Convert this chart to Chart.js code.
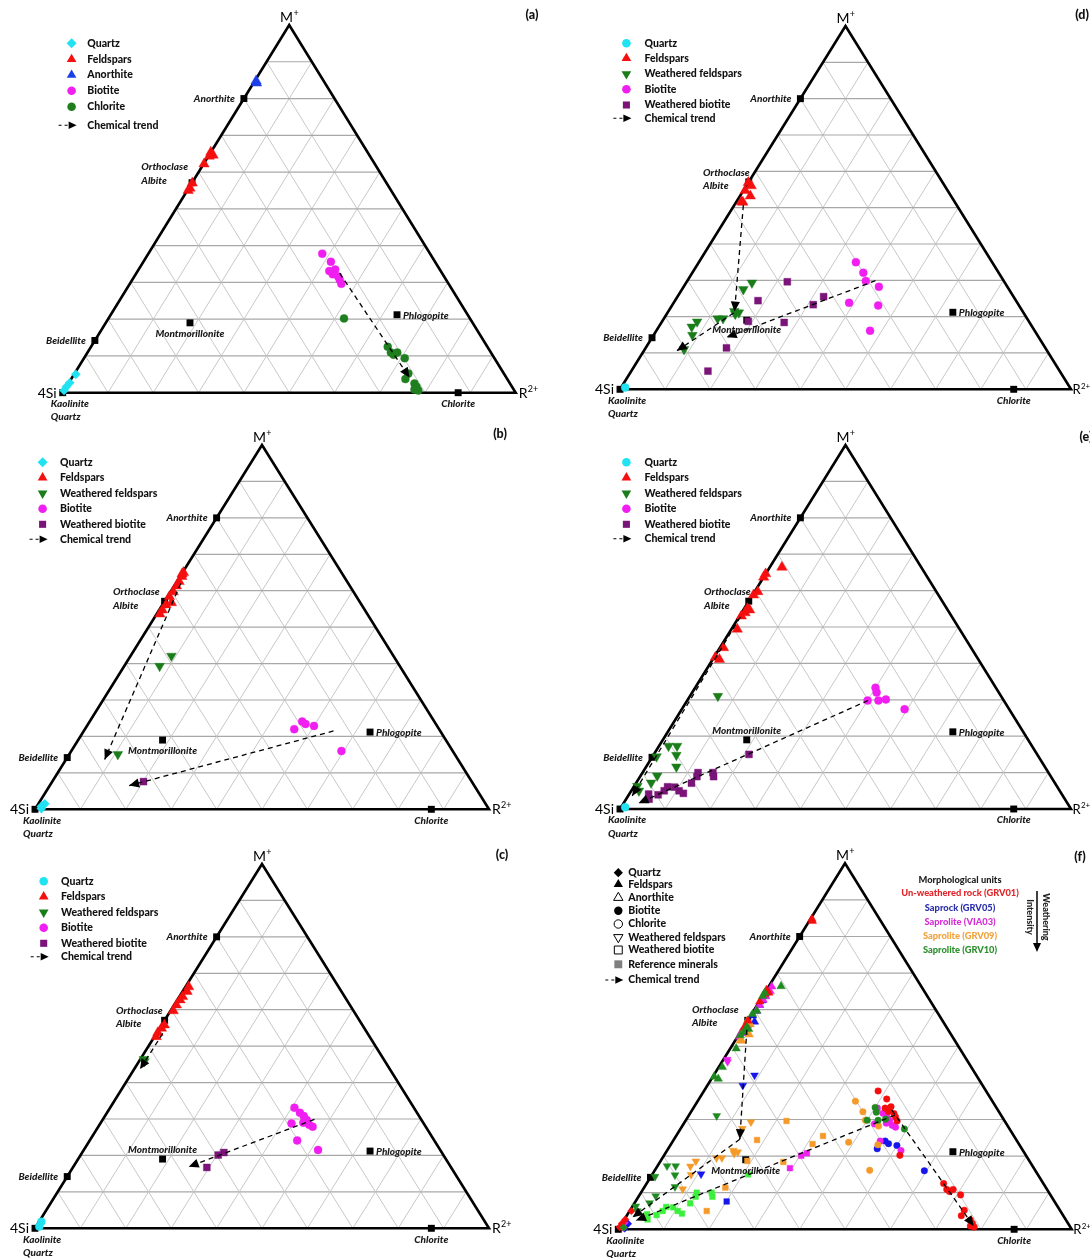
<!DOCTYPE html>
<html lang="en">
<head>
<meta charset="utf-8">
<title>M+ – 4Si – R2+ ternary diagrams</title>
<script src="https://cdn.jsdelivr.net/npm/chart.js@4.4.0/dist/chart.umd.min.js"></script>
<style>
  html, body { margin: 0; padding: 0; background: #fff; }
  #sheet { position: relative; width: 1090px; height: 1258px; overflow: hidden; background: #fff; }
  #sheet canvas { position: absolute; }
</style>
</head>
<body>
<div id="sheet">
  <canvas id="chart-a" width="545" height="432" style="left:0;top:0"></canvas>
  <canvas id="chart-b" width="545" height="432" style="left:0;top:420px"></canvas>
  <canvas id="chart-c" width="545" height="418" style="left:0;top:840px"></canvas>
  <canvas id="chart-d" width="545" height="432" style="left:545px;top:0"></canvas>
  <canvas id="chart-e" width="545" height="432" style="left:545px;top:420px"></canvas>
  <canvas id="chart-f" width="545" height="418" style="left:545px;top:840px"></canvas>
</div>
<script>
// Every composition is [M+, R2+] in percent; the 4Si share is 100 - M+ - R2+.
const gridSteps = [10, 20, 30, 40, 50, 60, 70, 80, 90];

// Reference minerals
const refNames = ['Anorthite', 'Albite', 'Beidellite', 'Montmorillonite', 'Phlogopite', 'Chlorite', 'Kaolinite'];
const refPts = [[80.0, 0.0], [57.1, 0.0], [14.2, 0.0], [19.0, 18.6], [21.2, 63.2], [0.0, 87.3], [0.0, 0.0]];

// (a) Un-weathered rock GRV01
const a_quartz = [[5.0, 0.4], [2.7, 0.2], [1.6, 0.0], [0.6, 0.0]];
const a_feldspars = [[65.4, 0.0], [64.6, 0.9], [64.3, 0.2], [62.2, 0.1], [57.0, 0.1], [55.6, 0.3], [55.0, 0.2]];
const a_anorthite = [[84.8, 0.3], [84.2, 0.7]];
const a_biotite = [[37.8, 38.4], [35.6, 41.4], [33.1, 42.3], [33.5, 43.4], [32.2, 43.5], [31.6, 45.0], [30.7, 45.8], [29.6, 46.7]];
const a_chlorite = [[20.2, 52.0], [12.5, 65.5], [10.9, 67.0], [10.3, 67.9], [10.9, 68.4], [9.4, 70.8], [5.2, 73.7], [3.7, 73.8], [2.5, 76.4], [1.6, 77.3], [0.9, 77.2], [0.6, 78.2]];
const a_trends = [[[32.5, 44.9], [4.1, 74.5]]];

// (b) Saprock GRV05
const b_quartz = [[1.5, 1.4], [0.8, 1.0], [0.2, 1.3]];
const b_feldspars = [[65.0, 0.2], [64.6, 0.1], [63.9, 0.4], [62.5, 0.5], [61.3, 0.5], [59.7, 0.6], [58.4, 0.4], [56.7, 1.7], [56.1, 0.8], [54.7, 0.7], [53.6, 0.7]];
const b_wfeldspars = [[42.1, 9.0], [39.3, 7.8], [15.1, 10.7]];
const b_biotite = [[24.1, 46.8], [23.4, 47.9], [22.9, 50.0], [22.0, 46.1], [16.0, 59.5]];
const b_wbiotite = [[7.6, 20.1]];
const b_trends = [[[62.0, 1.1], [13.7, 8.5]], [[21.5, 55.0], [6.5, 17.5]]];

// (c) Saprolite VIA03
const c_quartz = [[1.8, 0.5], [0.5, 0.7]];
const c_feldspars = [[66.3, 0.7], [65.0, 1.0], [63.6, 0.7], [62.7, 0.6], [61.3, 0.5], [59.7, 0.6], [55.8, 0.6], [54.9, 0.4], [53.7, 0.2], [52.6, 0.4]];
const c_wfeldspars = [[46.4, 0.8], [45.8, 1.2]];
const c_biotite = [[33.1, 40.6], [31.7, 42.5], [30.8, 43.8], [29.7, 45.0], [29.0, 44.6], [28.4, 46.2], [27.9, 47.2], [28.8, 42.1], [24.1, 45.7], [21.5, 51.6]];
const c_wbiotite = [[20.8, 31.2], [20.1, 30.3], [16.7, 29.5]];
const c_trends = [[[53.5, 1.4], [43.7, 1.3]], [[29.9, 46.6], [16.9, 25.4]]];

// (d) Saprolite GRV09
const d_quartz = [[0.5, 0.9]];
const d_feldspars = [[56.9, 0.0], [56.0, 1.1], [54.7, 0.4], [53.2, 2.3], [51.6, 1.1], [51.5, 1.5]];
const d_wfeldspars = [[29.3, 14.6], [27.5, 13.6], [21.5, 14.6], [21.1, 15.8], [20.7, 15.2], [19.5, 13.1], [19.5, 11.9], [18.6, 7.8], [17.2, 7.3], [14.9, 8.6], [11.0, 8.7]];
const d_biotite = [[35.0, 34.8], [32.1, 37.9], [29.8, 39.6], [28.2, 43.3], [23.8, 38.9], [23.1, 45.7], [16.1, 47.4]];
const d_wbiotite = [[29.6, 22.3], [24.4, 18.4], [25.5, 32.4], [23.3, 31.2], [18.4, 27.2], [18.7, 19.1], [11.4, 17.9], [5.0, 17.0]];
const d_trends = [[[50.7, 2.0], [21.4, 14.7]], [[21.0, 14.7], [10.6, 7.3]], [[29.9, 41.7], [14.3, 16.5]]];

// (e) Saprolite GRV10
const e_quartz = [[0.5, 0.9]];
const e_feldspars = [[66.4, 2.7], [64.6, 0.0], [63.7, 0.0], [59.7, 0.7], [58.8, 0.2], [55.1, 0.7], [53.9, 0.8], [54.7, 1.4], [53.0, 0.4], [49.4, 1.3], [44.3, 0.8], [41.7, 0.3], [41.1, 1.5]];
const e_wfeldspars = [[31.0, 6.2], [17.3, 2.1], [17.3, 4.0], [14.8, 5.1], [11.6, 6.7], [14.4, 0.9], [9.1, 3.7], [7.2, 3.3], [6.3, 0.7], [5.0, 1.7]];
const e_biotite = [[33.3, 40.0], [32.0, 40.9], [29.8, 40.0], [29.8, 42.4], [30.1, 43.9], [27.4, 49.4]];
const e_wbiotite = [[15.0, 21.1], [10.0, 15.6], [8.9, 16.3], [10.0, 12.3], [8.9, 12.6], [7.1, 12.3], [5.0, 10.6], [4.3, 11.9], [6.0, 9.1], [6.1, 7.5], [5.0, 7.3], [3.9, 6.5], [4.1, 4.3], [2.7, 5.1]];
const e_trends = [[[52.8, 0.3], [3.6, 0.9]], [[29.8, 40.1], [1.6, 3.3]]];

// (f) all units together
const f_trends = [[[54.5, 1.1], [24.6, 14.5]], [[24.6, 14.5], [3.3, 1.5]], [[31.2, 45.4], [2.4, 2.7]], [[32.6, 44.0], [0.9, 77.9]]];
const unitNames = ['Un-weathered rock (GRV01)', 'Saprock (GRV05)', 'Saprolite (VIA03)', 'Saprolite (GRV09)', 'Saprolite (GRV10)'];
const unitColors = ['#f50d0d', '#1616ea', '#ee20ee', '#f59a2a', '#1f8a1f'];
const unitTextColors = ['#e0262b', '#2b30a8', '#d330d3', '#f0a23c', '#2c8f2c'];
const grv10BiotiteColor = '#3bf03b';

const FONT = 'Lato, "Open Sans", "Liberation Sans", sans-serif';
const COL = { quartz: '#20e2f0', feldspar: '#f50f0f', anorthite: '#1c3ee6', biotite: '#f01ef0', chlorite: '#1f7f1f', wfeld: '#1a7d1a', wbio: '#7a1478' };
const STYLE = {
  circle:   { pointStyle: 'circle',   r: 4.0, rot: 0 },
  triangle: { pointStyle: 'triangle', r: 6.0, rot: 0 },
  down:     { pointStyle: 'triangle', r: 5.6, rot: 180 },
  square:   { pointStyle: 'rect',     r: 4.9, rot: 0 },
  diamond:  { pointStyle: 'rectRot',  r: 4.6, rot: 0 }
};

const toXY = arr => arr.map(([m, r]) => ({ x: r + m / 2, y: m }));

function pointSet(label, arr, shape, color, order, scale) {
  const s = STYLE[shape];
  return {
    label, data: toXY(arr), showLine: false, order, clip: false,
    pointStyle: s.pointStyle, pointRotation: s.rot, pointRadius: s.r * (scale || 1),
    pointBackgroundColor: color, pointBorderColor: color, pointBorderWidth: 0.4
  };
}
function trendSet(arr) {
  return {
    label: 'Chemical trend', data: toXY(arr), showLine: true, pointRadius: 0, order: 0, clip: false,
    borderColor: '#000', borderWidth: 1.3, borderDash: [5, 4], trend: true
  };
}
function refSet() {
  return {
    label: 'Reference minerals', data: toXY(refPts), showLine: false, order: 9, clip: false,
    pointStyle: 'rect', pointRadius: 4.9, pointBackgroundColor: '#000', pointBorderColor: '#000', pointBorderWidth: 0
  };
}

// ---------- drawing helpers ----------
function shapePath(ctx, shape, x, y, r) {
  ctx.beginPath();
  if (shape === 'circle') { ctx.arc(x, y, r, 0, Math.PI * 2); return; }
  if (shape === 'triangle' || shape === 'down') {
    const s = shape === 'down' ? -1 : 1;
    ctx.moveTo(x, y - s * r);
    ctx.lineTo(x + r * 0.866, y + s * r * 0.5);
    ctx.lineTo(x - r * 0.866, y + s * r * 0.5);
    ctx.closePath(); return;
  }
  if (shape === 'square') { const h = r * Math.SQRT1_2; ctx.rect(x - h, y - h, 2 * h, 2 * h); return; }
  if (shape === 'diamond') { ctx.moveTo(x - r, y); ctx.lineTo(x, y - r); ctx.lineTo(x + r, y); ctx.lineTo(x, y + r); ctx.closePath(); }
}
function legendMarker(ctx, shape, x, y, r, color, filled) {
  shapePath(ctx, shape, x, y, r);
  if (filled) { ctx.fillStyle = color; ctx.fill(); }
  else { ctx.lineWidth = 1; ctx.strokeStyle = color; ctx.stroke(); }
}
function arrowHead(ctx, ax, ay, bx, by, len, hw) {
  const d = Math.hypot(bx - ax, by - ay) || 1;
  const ux = (bx - ax) / d, uy = (by - ay) / d;
  const cx = bx - ux * len, cy = by - uy * len;
  ctx.beginPath();
  ctx.moveTo(bx, by);
  ctx.lineTo(cx - uy * hw, cy + ux * hw);
  ctx.lineTo(cx + uy * hw, cy - ux * hw);
  ctx.closePath();
  ctx.fillStyle = '#000';
  ctx.fill();
}
function legendTrend(ctx, x, y) {
  ctx.save();
  ctx.strokeStyle = '#000'; ctx.lineWidth = 1.1; ctx.setLineDash([3, 3]);
  ctx.beginPath(); ctx.moveTo(x - 13, y); ctx.lineTo(x - 1, y); ctx.stroke();
  ctx.restore();
  arrowHead(ctx, x - 3, y, x + 5, y, 8, 3.8);
}
function supText(ctx, x, y, base, sup, align, size) {
  const fs = size || 14;
  ctx.font = `${fs}px ${FONT}`;
  const wb = ctx.measureText(base).width;
  ctx.font = `${Math.round(fs * 0.64)}px ${FONT}`;
  const ws = ctx.measureText(sup).width;
  const x0 = align === 'center' ? x - (wb + ws) / 2 : x;
  ctx.textAlign = 'left'; ctx.textBaseline = 'alphabetic'; ctx.fillStyle = '#000';
  ctx.font = `${fs}px ${FONT}`; ctx.fillText(base, x0, y);
  ctx.font = `${Math.round(fs * 0.64)}px ${FONT}`; ctx.fillText(sup, x0 + wb + 0.3, y - fs * 0.43);
}

function ternaryPlugin(panel) {
  return {
    id: 'ternaryFrame',
    beforeDatasetsDraw(chart) {
      const ctx = chart.ctx, xs = chart.scales.x, ys = chart.scales.y;
      const P = (m, r) => [xs.getPixelForValue(r + m / 2), ys.getPixelForValue(m)];
      const seg = (p, q, col, w) => { ctx.beginPath(); ctx.moveTo(p[0], p[1]); ctx.lineTo(q[0], q[1]); ctx.strokeStyle = col; ctx.lineWidth = w; ctx.stroke(); };
      ctx.save();
      for (const k of gridSteps) {
        seg(P(0, k), P(100 - k, k), '#c2c2c2', 0.9);
        seg(P(0, 100 - k), P(100 - k, 0), '#c2c2c2', 0.9);
        seg(P(k, 0), P(k, 100 - k), '#a8a8a8', 1.2);
      }
      const L = P(0, 0), R = P(0, 100), A = P(100, 0);
      ctx.beginPath(); ctx.moveTo(L[0], L[1]); ctx.lineTo(R[0], R[1]); ctx.lineTo(A[0], A[1]); ctx.closePath();
      ctx.lineWidth = 2.6; ctx.strokeStyle = '#000'; ctx.lineJoin = 'miter'; ctx.stroke();
      ctx.restore();
    },
    afterDatasetsDraw(chart) {
      const ctx = chart.ctx, xs = chart.scales.x, ys = chart.scales.y;
      const P = (m, r) => [xs.getPixelForValue(r + m / 2), ys.getPixelForValue(m)];
      ctx.save();
      // arrowheads at the end of each trend line
      chart.data.datasets.forEach((ds, i) => {
        if (!ds.trend) return;
        const els = chart.getDatasetMeta(i).data;
        const a = els[els.length - 2], b = els[els.length - 1];
        arrowHead(ctx, a.x, a.y, b.x, b.y, 10, 4.6);
      });

      // vertex labels
      const L = P(0, 0), R = P(0, 100), A = P(100, 0);
      ctx.font = `14px ${FONT}`; ctx.fillStyle = '#000'; ctx.textAlign = 'right'; ctx.textBaseline = 'alphabetic';
      ctx.fillText('4Si', L[0] - 6, L[1] + 5);
      supText(ctx, A[0], A[1] - 3, 'M', '+', 'center', 14);
      supText(ctx, R[0] + panel.rGap, R[1] + 5, 'R', '2+', 'left', panel.rSize);

      // reference mineral names
      ctx.font = `italic 900 10px ${FONT}`; ctx.fillStyle = '#1a1a1a'; ctx.textBaseline = 'middle';
      const an = P(...refPts[0]), ab = P(...refPts[1]), be = P(...refPts[2]), mo = P(...refPts[3]),
            ph = P(...refPts[4]), ch = P(...refPts[5]), ka = P(...refPts[6]);
      ctx.textAlign = 'right'; ctx.fillText(refNames[0], an[0] - 9, an[1]);
      const ow = ctx.measureText('Orthoclase').width;
      const ox = ab[0] + panel.ortho[0] - ow;
      ctx.textAlign = 'left';
      ctx.fillText('Orthoclase', ox, ab[1] + panel.ortho[1]);
      ctx.fillText(refNames[1], ox, ab[1] + panel.ortho[2]);
      ctx.textAlign = 'right'; ctx.fillText(refNames[2], be[0] - 9, be[1]);
      ctx.textAlign = 'center'; ctx.fillText(refNames[3], mo[0], mo[1] + panel.mont);
      ctx.textAlign = 'left'; ctx.fillText(refNames[4], ph[0] + 6, ph[1] + 1);
      ctx.textAlign = 'center'; ctx.fillText(refNames[5], ch[0], ch[1] + 11);
      ctx.textAlign = 'left'; ctx.fillText(refNames[6], ka[0] - 12, ka[1] + 11);
      ctx.fillText('Quartz', ka[0] - 12, ka[1] + 24.5);

      // legend
      const lg = panel.legend;
      lg.items.forEach((it, i) => {
        const y = lg.ys[i];
        if (it.shape === 'trend') legendTrend(ctx, lg.mx, y);
        else legendMarker(ctx, it.shape, lg.mx, y, it.r, it.color, it.filled !== false);
        ctx.font = `900 10.5px ${FONT}`; ctx.fillStyle = '#111'; ctx.textAlign = 'left'; ctx.textBaseline = 'middle';
        ctx.fillText(it.text, lg.tx, y);
      });
      if (panel.extra) panel.extra(ctx);

      // panel tag
      ctx.font = `900 12.5px ${FONT}`; ctx.fillStyle = '#111'; ctx.textAlign = 'center'; ctx.textBaseline = 'middle';
      ctx.fillText(panel.tag, panel.tagXY[0], panel.tagXY[1]);
      ctx.restore();
    }
  };
}

// ---------- panels ----------
function legendFor(quartzShape, kind) {
  return [
    { shape: quartzShape, color: COL.quartz, text: 'Quartz', r: quartzShape === 'diamond' ? 5 : 4.3 },
    { shape: 'triangle', color: COL.feldspar, text: 'Feldspars', r: 5.6 },
    kind === 'a' ? { shape: 'triangle', color: COL.anorthite, text: 'Anorthite', r: 5.6 }
                 : { shape: 'down', color: COL.wfeld, text: 'Weathered feldspars', r: 5.6 },
    { shape: 'circle', color: COL.biotite, text: 'Biotite', r: 4.3 },
    kind === 'a' ? { shape: 'circle', color: COL.chlorite, text: 'Chlorite', r: 4.3 }
                 : { shape: 'square', color: COL.wbio, text: 'Weathered biotite', r: 5 },
    { shape: 'trend', text: 'Chemical trend' }
  ];
}

function weatheredPanel(q, f, wf, bi, wb, qShape) {
  return [
    pointSet('Quartz', q, qShape, COL.quartz, 2),
    pointSet('Feldspars', f, 'triangle', COL.feldspar, 2),
    pointSet('Weathered feldspars', wf, 'down', COL.wfeld, 2),
    pointSet('Biotite', bi, 'circle', COL.biotite, 2),
    pointSet('Weathered biotite', wb, 'square', COL.wbio, 2)
  ];
}

const panels = [
  { canvas: 'chart-a', tag: '(a)', tagXY: [532, 15], rGap: 3, rSize: 14,
    pad: { left: 62.7, right: 29.3, top: 25, bottom: 39.3 },
    legend: { mx: 71.6, tx: 87.3, ys: [43.3, 59.3, 75, 90.7, 106.7, 125.3], items: legendFor('diamond', 'a') },
    ortho: [-4, -16, -1.5], mont: 11,
    sets: [
      pointSet('Quartz', a_quartz, 'diamond', COL.quartz, 2),
      pointSet('Feldspars', a_feldspars, 'triangle', COL.feldspar, 2),
      pointSet('Anorthite', a_anorthite, 'triangle', COL.anorthite, 2),
      pointSet('Biotite', a_biotite, 'circle', COL.biotite, 2),
      pointSet('Chlorite', a_chlorite, 'circle', COL.chlorite, 2)
    ], trends: a_trends },
  { canvas: 'chart-b', tag: '(b)', tagXY: [500, 14], rGap: 3, rSize: 14,
    pad: { left: 35, right: 56, top: 25, bottom: 42.7 },
    legend: { mx: 42.6, tx: 60, ys: [42.3, 57.7, 73.3, 88.7, 104.3, 119.3], items: legendFor('diamond', 'w') },
    ortho: [-5, -9.3, 4], mont: 11,
    sets: weatheredPanel(b_quartz, b_feldspars, b_wfeldspars, b_biotite, b_wbiotite, 'diamond'), trends: b_trends },
  { canvas: 'chart-c', tag: '(c)', tagXY: [502, 15], rGap: 3, rSize: 14,
    pad: { left: 35, right: 56, top: 24, bottom: 29.7 },
    legend: { mx: 43.7, tx: 61, ys: [41.3, 56.7, 72.3, 87.7, 103.3, 116.7], items: legendFor('circle', 'w') },
    ortho: [-2, -10, 3.4], mont: -9,
    sets: weatheredPanel(c_quartz, c_feldspars, c_wfeldspars, c_biotite, c_wbiotite, 'circle'), trends: c_trends },
  { canvas: 'chart-d', tag: '(d)', tagXY: [537, 15], rGap: 1.5, rSize: 13,
    pad: { left: 75, right: 19, top: 26, bottom: 42.7 },
    legend: { mx: 81.4, tx: 99.5, ys: [43.3, 58.3, 74, 89.3, 105, 118.3], items: legendFor('circle', 'w') },
    ortho: [1, -9, 4.3], mont: 10,
    sets: weatheredPanel(d_quartz, d_feldspars, d_wfeldspars, d_biotite, d_wbiotite, 'circle'), trends: d_trends },
  { canvas: 'chart-e', tag: '(e)', tagXY: [541, 16.7], rGap: 1.5, rSize: 13,
    pad: { left: 75, right: 19, top: 25, bottom: 43 },
    legend: { mx: 81.4, tx: 99.5, ys: [42.3, 57.7, 73.3, 88.7, 104.3, 118.7], items: legendFor('circle', 'w') },
    ortho: [2, -9, 5], mont: -9,
    sets: weatheredPanel(e_quartz, e_feldspars, e_wfeldspars, e_biotite, e_wbiotite, 'circle'), trends: e_trends }
];

// (f): every sample from (a)-(e), coloured by morphological unit
const fScale = 0.82;
const fUnits = [
  { u: 1, order: 6, groups: [['diamond', b_quartz], ['triangle', b_feldspars], ['down', b_wfeldspars], ['circle', b_biotite], ['square', b_wbiotite]] },
  { u: 2, order: 5, groups: [['diamond', c_quartz], ['triangle', c_feldspars], ['down', c_wfeldspars], ['circle', c_biotite], ['square', c_wbiotite]] },
  { u: 3, order: 4, groups: [['diamond', d_quartz], ['triangle', d_feldspars], ['down', d_wfeldspars], ['circle', d_biotite], ['square', d_wbiotite]] },
  { u: 0, order: 3, groups: [['diamond', a_quartz], ['triangle', a_feldspars.concat(a_anorthite)], ['circle', a_biotite.concat(a_chlorite)]] },
  { u: 4, order: 2, groups: [['diamond', e_quartz], ['triangle', e_feldspars], ['down', e_wfeldspars], ['circle', e_biotite], ['square', e_wbiotite, grv10BiotiteColor]] }
];
const fSets = [];
fUnits.forEach(unit => unit.groups.forEach(([shape, arr, col]) => {
  fSets.push(pointSet(unitNames[unit.u], arr, shape, col || unitColors[unit.u], unit.order, fScale));
}));

panels.push({
  canvas: 'chart-f', tag: '(f)', tagXY: [535, 16.7], rGap: 1.5, rSize: 13,
  pad: { left: 73.3, right: 18.3, top: 23.3, bottom: 28.7 },
  legend: { mx: 73.3, tx: 83.3, ys: [32.7, 44.3, 57.7, 70.7, 84, 97.3, 110, 124.3, 140], items: [
    { shape: 'diamond', color: '#000', text: 'Quartz', r: 4.6 },
    { shape: 'triangle', color: '#000', text: 'Feldspars', r: 5.4 },
    { shape: 'triangle', color: '#000', text: 'Anorthite', r: 5.4, filled: false },
    { shape: 'circle', color: '#000', text: 'Biotite', r: 4.2 },
    { shape: 'circle', color: '#000', text: 'Chlorite', r: 4.2, filled: false },
    { shape: 'down', color: '#000', text: 'Weathered feldspars', r: 5.4, filled: false },
    { shape: 'square', color: '#000', text: 'Weathered biotite', r: 5.6, filled: false },
    { shape: 'square', color: '#808080', text: 'Reference minerals', r: 5.6 },
    { shape: 'trend', text: 'Chemical trend' }
  ] },
  ortho: [-9, -11, 2.4], mont: 11,
  sets: fSets, trends: f_trends,
  extra(ctx) {
    ctx.textAlign = 'center'; ctx.textBaseline = 'middle';
    ctx.font = `900 9.3px ${FONT}`; ctx.fillStyle = '#222';
    ctx.fillText('Morphological units', 415, 40);
    unitNames.forEach((n, i) => { ctx.fillStyle = unitTextColors[i]; ctx.fillText(n, 415, 53.3 + i * 14.2); });
    // weathering-intensity arrow
    ctx.strokeStyle = '#111'; ctx.lineWidth = 1.6;
    ctx.beginPath(); ctx.moveTo(492, 51); ctx.lineTo(492, 104); ctx.stroke();
    arrowHead(ctx, 492, 100, 492, 112, 9, 4);
    ctx.save();
    ctx.fillStyle = '#222'; ctx.font = `900 9px ${FONT}`;
    ctx.translate(501, 77); ctx.rotate(Math.PI / 2); ctx.fillText('Weathering', 0, 0);
    ctx.restore();
    ctx.save();
    ctx.fillStyle = '#222'; ctx.font = `900 9px ${FONT}`;
    ctx.translate(485, 77); ctx.rotate(Math.PI / 2); ctx.fillText('Intensity', 0, 0);
    ctx.restore();
  }
});

// ---------- build the charts ----------
panels.forEach(panel => {
  const datasets = panel.trends.map(trendSet).concat(panel.sets, [refSet()]);
  new Chart(document.getElementById(panel.canvas), {
    type: 'scatter',
    data: { datasets },
    options: {
      responsive: false, animation: false, events: [],
      layout: { padding: panel.pad },
      scales: {
        x: { type: 'linear', min: 0, max: 100, display: false },
        y: { type: 'linear', min: 0, max: 100, display: false }
      },
      plugins: { legend: { display: false }, tooltip: { enabled: false } }
    },
    plugins: [ternaryPlugin(panel)]
  });
});
</script>
</body>
</html>
